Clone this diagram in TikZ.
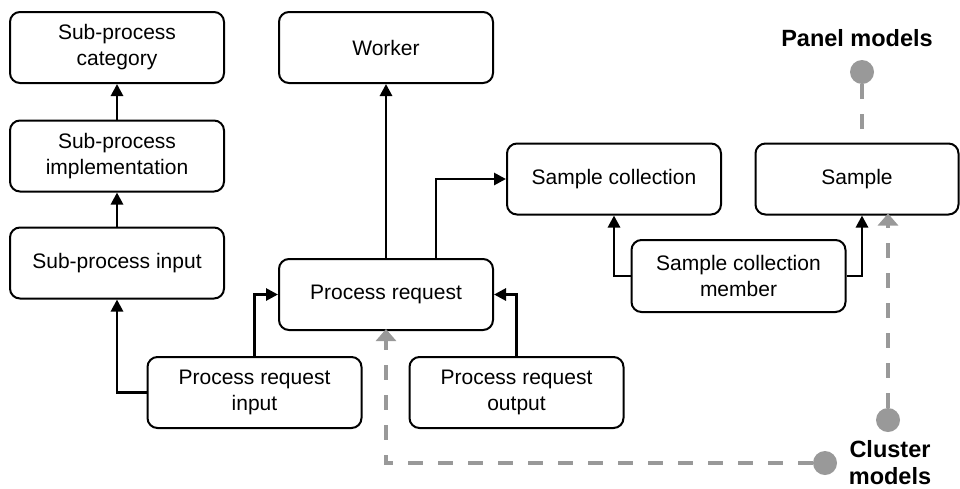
\documentclass[tikz,border=0pt]{standalone}
\usepackage{fontspec}
\setmainfont{Liberation Sans}
\usetikzlibrary{arrows.meta}
\definecolor{linkgray}{HTML}{999999}
\tikzset{
  box/.style={draw=black, line width=2pt, rounded corners=10pt, fill=white,
    minimum width=214pt, minimum height=71pt, align=center,
    font=\fontsize{21}{26}\selectfont, inner sep=0pt},
  link/.style={line width=2.8pt, -{Triangle[length=12pt,width=12pt]}},
  glink/.style={draw=linkgray, line width=4pt, dash pattern=on 15pt off 15pt},
  garrow/.style={-{Triangle[length=12pt,width=20pt]}},
  dot/.style={circle, fill=linkgray, minimum size=24pt, inner sep=0pt},
  tag/.style={font=\fontsize{23.5}{27}\selectfont\bfseries, align=center, inner sep=0pt}
}
\begin{document}
\begin{tikzpicture}[x=1pt, y=-1pt]
  \useasboundingbox (0,0) rectangle (960,488);
  \clip (0,0) rectangle (960,488);

  % entity boxes
  \node[box] (cat)    at (117,47.5)  {Sub-process\\category};
  \node[box] (impl)   at (117,156)   {Sub-process\\implementation};
  \node[box] (spin)   at (117,263)   {Sub-process input};
  \node[box] (worker) at (386,47.5)  {Worker};
  \node[box] (pr)     at (386,294.5) {Process request};
  \node[box] (sc)     at (614,179)   {Sample collection};
  \node[box, minimum width=203pt] (sample) at (857,179) {Sample};
  \node[box, minimum height=72pt] (scm) at (738.5,276) {Sample collection\\member};
  \node[box] (pri)    at (254.5,392.5) {Process request\\input};
  \node[box] (pro)    at (516.5,392.5) {Process request\\output};

  % relations
  \draw[link] (impl.north) -- (cat.south);
  \draw[link] (spin.north) -- (impl.south);
  \draw[link] (pri.west) -| (spin.south);
  \draw[link] (pri.north) |- (pr.west);
  \draw[link] (pro.north) |- (pr.east);
  \draw[link] (pr.north) -- (worker.south);
  \draw[link] ([xshift=50pt]pr.north) |- (sc.west);
  \draw[link] (scm.west) -| (sc.south);
  \draw[link] (scm.east) -| ([xshift=5pt]sample.south);

  % model groupings
  \node[dot] (pdot)  at (862,72) {};
  \node[dot] (cdot1) at (888,420) {};
  \node[dot] (cdot2) at (825,463) {};
  \draw[glink] (pdot.south) -- (pdot.south |- sample.north);
  \draw[glink, garrow] (cdot1.north) -- ([yshift=2pt]cdot1.north |- sample.south);
  \draw[glink, garrow] (cdot2.west) -| ([yshift=2pt]pr.south);

  \node[tag] (panel)   at (857,38)  {Panel models};
  \node[tag] (cluster) at (890,463) {Cluster\\models};
\end{tikzpicture}
\end{document}
